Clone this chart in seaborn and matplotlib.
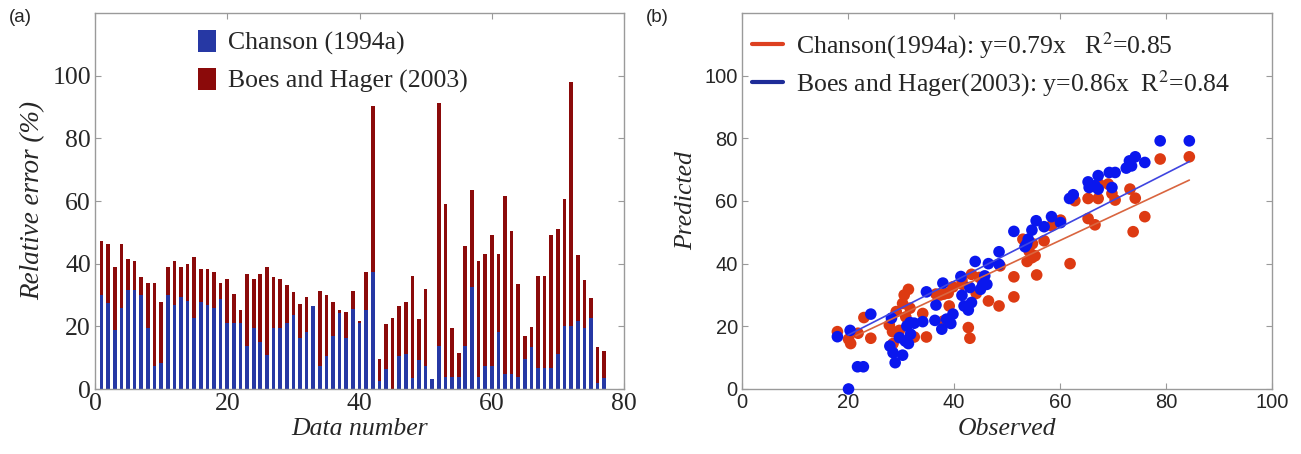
import numpy as np
import pandas as pd
import matplotlib
matplotlib.use("Agg")
import matplotlib.pyplot as plt
import seaborn as sns
from matplotlib.patches import Patch
from matplotlib.lines import Line2D

# ---------------- data ----------------
data_number = list(range(1, 78))
err_boes = [47.3, 46.2, 39.0, 46.2, 41.4, 40.9, 35.6, 33.8, 33.8, 27.8,
            39.0, 40.9, 39.0, 39.8, 42.1, 38.4, 38.4, 37.2, 33.8, 35.0,
            30.2, 25.2, 36.6, 35.0, 36.6, 39.0, 35.6, 35.0, 33.1, 30.8,
            27.1, 29.5, 26.5, 31.3, 30.0, 27.8, 25.2, 24.7, 31.3, 21.7,
            37.2, 90.2, 9.7, 20.7, 22.8, 26.5, 27.8, 36.1, 22.3, 31.9,
            3.1, 91.3, 59.2, 19.4, 11.6, 45.7, 63.5, 40.9, 43.2, 49.1,
            43.2, 61.7, 50.3, 33.6, 16.9, 19.9, 36.1, 36.1, 49.2, 51.0,
            60.6, 98.1, 42.7, 34.8, 29.0, 13.5, 12.1]
err_chanson = [30.0, 27.3, 18.8, 25.8, 31.5, 31.5, 30.0, 19.6, 7.3, 8.4,
               30.0, 26.7, 29.4, 28.1, 22.8, 27.9, 26.8, 25.8, 28.6, 21.2,
               21.2, 21.1, 13.7, 19.4, 15.1, 10.9, 19.4, 19.6, 21.2, 23.6,
               16.4, 18.3, 26.5, 7.3, 10.5, 16.9, 24.1, 16.4, 25.5, 21.2,
               25.1, 37.2, 2.6, 6.3, 0.0, 10.5, 11.1, 3.6, 9.2, 7.3,
               3.1, 13.7, 3.8, 3.8, 3.8, 13.7, 32.4, 3.8, 7.3, 7.3,
               18.3, 4.7, 4.7, 3.8, 9.5, 13.4, 6.8, 6.8, 6.8, 11.1,
               20.1, 20.1, 21.7, 19.6, 22.8, 2.0, 3.6]

obs_chanson = [18.0, 20.1, 20.5, 21.9, 23.0, 24.3, 27.8, 28.4, 28.5, 29.1, 29.7,
               30.3, 30.6, 31.4, 30.9, 31.7, 32.5, 34.1, 34.8, 36.6, 37.4, 38.1,
               39.1, 38.9, 39.8, 38.0, 41.5, 41.6, 42.7, 43.0, 43.3, 44.2, 44.8,
               46.5, 48.5, 48.7, 51.3, 51.3, 53.0, 53.8, 54.2, 54.8, 54.7, 55.3,
               55.6, 57.0, 58.4, 60.1, 61.9, 62.8, 65.3, 65.3, 66.6, 67.2, 67.4,
               69.1, 69.8, 70.4, 73.2, 74.2, 73.8, 76.0, 78.9, 84.4]
pred_chanson = [18.3, 15.9, 14.5, 17.8, 22.8, 16.2, 20.4, 18.3, 14.5, 24.7, 18.7,
                27.3, 30.0, 31.8, 23.0, 25.8, 16.6, 24.1, 16.6, 30.3, 30.0, 30.3,
                26.5, 30.6, 32.6, 21.7, 34.7, 33.4, 19.6, 16.2, 36.6, 30.5, 35.6,
                28.1, 26.5, 39.3, 35.8, 29.4, 47.8, 40.7, 43.9, 46.4, 41.9, 42.5,
                36.4, 47.3, 52.1, 53.9, 40.0, 60.1, 60.8, 54.4, 52.4, 60.8, 65.4,
                65.4, 62.4, 60.3, 63.8, 60.9, 50.2, 55.0, 73.4, 74.1]
obs_boes = [18.0, 20.4, 20.1, 21.8, 22.9, 24.3, 27.9, 28.2, 28.5, 28.9, 30.3,
            29.7, 30.8, 31.4, 31.1, 31.7, 31.8, 32.5, 34.1, 34.8, 36.6, 36.4,
            37.7, 37.9, 38.6, 39.4, 39.8, 41.3, 41.5, 41.9, 42.7, 43.0, 43.3,
            44.0, 45.0, 45.4, 45.8, 46.2, 46.5, 48.5, 48.5, 51.3, 53.4, 53.7,
            54.0, 54.7, 55.5, 57.0, 58.4, 60.1, 61.8, 62.5, 65.3, 65.5, 67.2,
            67.2, 66.6, 69.3, 70.4, 69.8, 72.5, 73.1, 73.5, 74.2, 76.0, 78.9, 84.4]
pred_boes = [16.7, 18.7, 0.0, 7.1, 7.1, 23.9, 13.7, 22.6, 11.6, 8.4, 10.8,
             16.4, 15.3, 14.5, 20.1, 21.2, 17.5, 21.0, 21.5, 31.0, 26.8, 21.9,
             19.1, 33.8, 22.3, 20.9, 23.9, 35.9, 29.9, 26.5, 25.2, 32.4, 27.6,
             40.7, 31.8, 33.2, 36.1, 33.4, 40.0, 43.8, 39.8, 50.3, 45.4, 46.2,
             47.8, 50.7, 53.7, 51.8, 55.0, 53.1, 60.8, 62.0, 66.1, 64.3, 68.1,
             63.8, 64.9, 69.1, 69.1, 64.3, 70.5, 72.8, 71.2, 74.1, 72.3, 79.2, 79.2]

slope_chanson, r2_chanson = 0.79, 0.85
slope_boes, r2_boes = 0.86, 0.84
fit_range_chanson = [21.5, 84.4]
fit_range_boes = [20.0, 84.4]

bar_labels = ["Chanson (1994a)", "Boes and Hager (2003)"]
scatter_labels = [f"Chanson(1994a): y={slope_chanson}x   R$^2$={r2_chanson}",
                  f"Boes and Hager(2003): y={slope_boes}x  R$^2$={r2_boes}"]

# ---------------- style ----------------
sns.set_style("ticks")
plt.rcParams["font.family"] = ["Liberation Serif", "DejaVu Serif"]
plt.rcParams["mathtext.fontset"] = "stix"

C_BAR_BLUE = "#2638A4"
C_BAR_RED = "#8B0A0A"
C_PT_RED = "#DD3A12"
C_PT_BLUE = "#0A17EE"
C_LEG_RED = "#DD4020"
C_LEG_BLUE = "#1E2C98"
SPINE = "#9A9A9A"

W, H = 1301, 454
fig = plt.figure(figsize=(W / 100, H / 100), dpi=100)
ax1 = fig.add_axes([95 / W, 65 / H, 529 / W, 376 / H])
ax2 = fig.add_axes([742 / W, 65 / H, 530 / W, 376 / H])

# ---------------- panel (a) ----------------
df_bar = pd.DataFrame({"n": data_number, "boes": err_boes, "chanson": err_chanson})
sns.barplot(data=df_bar, x="n", y="boes", native_scale=True, width=0.55,
            color=C_BAR_RED, saturation=1, errorbar=None, linewidth=0, ax=ax1)
sns.barplot(data=df_bar, x="n", y="chanson", native_scale=True, width=0.55,
            color=C_BAR_BLUE, saturation=1, errorbar=None, linewidth=0, ax=ax1)
ax1.set_xlim(0, 80)
ax1.set_ylim(0, 120)
ax1.set_xticks([0, 20, 40, 60, 80])
ax1.set_yticks([0, 20, 40, 60, 80, 100])
ax1.set_xlabel("Data number", fontsize=18.5, style="italic", labelpad=2)
ax1.set_ylabel("Relative error (%)", fontsize=19.5, style="italic", labelpad=5)
for lab in ax1.get_xticklabels() + ax1.get_yticklabels():
    lab.set_fontfamily(["Liberation Serif"])
    lab.set_fontsize(18.5)

handles_a = [Patch(facecolor=C_BAR_BLUE, edgecolor="none"),
             Patch(facecolor=C_BAR_RED, edgecolor="none")]
ax1.legend(handles_a, bar_labels, loc="upper left",
           bbox_to_anchor=(198 / W, 1 - 30 / H), bbox_transform=fig.transFigure,
           frameon=False, fontsize=18.5, handlelength=0.7, handleheight=0.95,
           handletextpad=0.45, labelspacing=0.48, borderpad=0, borderaxespad=0)

# ---------------- panel (b) ----------------
df_c = pd.DataFrame({"obs": obs_chanson, "pred": pred_chanson})
df_b = pd.DataFrame({"obs": obs_boes, "pred": pred_boes})
sns.scatterplot(data=df_c, x="obs", y="pred", color=C_PT_RED, s=70,
                edgecolor="none", ax=ax2, clip_on=False, zorder=3)
sns.scatterplot(data=df_b, x="obs", y="pred", color=C_PT_BLUE, s=70,
                edgecolor="none", ax=ax2, clip_on=False, zorder=3)
xc = np.array(fit_range_chanson)
xb = np.array(fit_range_boes)
sns.lineplot(x=xc, y=slope_chanson * xc, color="#D9653F", lw=1.2, ax=ax2, zorder=4)
sns.lineplot(x=xb, y=slope_boes * xb, color="#3F45E0", lw=1.2, ax=ax2, zorder=4)
ax2.set_xlim(0, 100)
ax2.set_ylim(0, 120)
ax2.set_xticks([0, 20, 40, 60, 80, 100])
ax2.set_yticks([0, 20, 40, 60, 80, 100])
ax2.set_xlabel("Observed", fontsize=18.5, style="italic", labelpad=4)
ax2.set_ylabel("Predicted", fontsize=18.5, style="italic", labelpad=5)
for lab in ax2.get_xticklabels() + ax2.get_yticklabels():
    lab.set_fontfamily(["Liberation Sans"])
    lab.set_fontsize(14.5)

handles_b = [Line2D([], [], color=C_LEG_RED, lw=3),
             Line2D([], [], color=C_LEG_BLUE, lw=3)]
ax2.legend(handles_b, scatter_labels, loc="upper left",
           bbox_to_anchor=(752 / W, 1 - 30 / H), bbox_transform=fig.transFigure,
           frameon=False, fontsize=18.5, handlelength=1.2,
           handletextpad=0.5, labelspacing=0.3, borderpad=0, borderaxespad=0)

for ax in (ax1, ax2):
    for sp in ax.spines.values():
        sp.set_color(SPINE)
        sp.set_linewidth(1.0)
        sp.set_visible(True)
    ax.tick_params(direction="in", top=True, right=True, length=4,
                   color=SPINE, pad=3)

fig.text(20 / W, 1 - 18 / H, "(a)", fontsize=13.5, family=["Liberation Sans"],
         ha="center", va="center")
fig.text(657 / W, 1 - 18 / H, "(b)", fontsize=13.5, family=["Liberation Sans"],
         ha="center", va="center")

fig.savefig("out.png", dpi=100, facecolor="white")
